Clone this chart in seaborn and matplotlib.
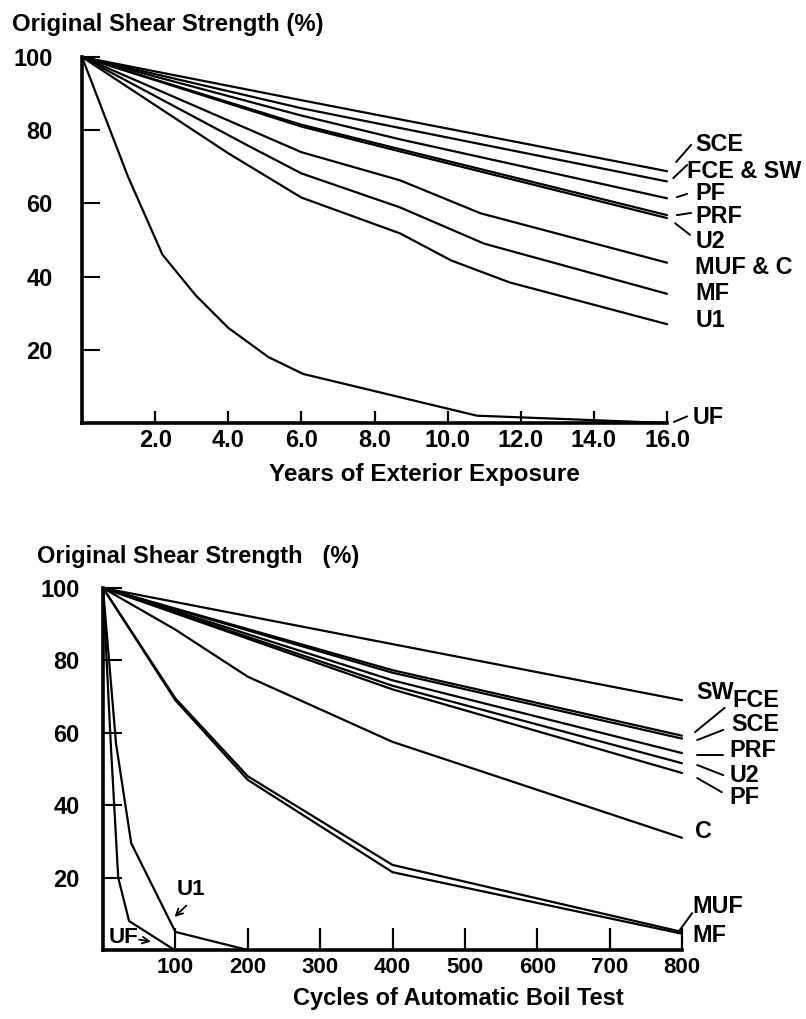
import matplotlib
matplotlib.use("Agg")
import matplotlib.pyplot as plt
import pandas as pd
import seaborn as sns

# ---- Exterior exposure (years) ----
sce_yr_x = [0, 6, 16]
sce_yr_y = [100, 88.2, 68.8]
fce_sw_yr_x = [0, 6, 16]
fce_sw_yr_y = [100, 86, 66]
pf_yr_x = [0, 6, 8.7, 16]
pf_yr_y = [100, 84, 77.5, 61.4]
prf_yr_x = [0, 6, 8.7, 16]
prf_yr_y = [100, 81.5, 74.8, 56.8]
u2_yr_x = [0, 6, 8.7, 16]
u2_yr_y = [100, 81, 74.2, 56.0]
muf_c_yr_x = [0, 6, 8.7, 10.9, 16]
muf_c_yr_y = [100, 74, 66.3, 57.3, 43.8]
mf_yr_x = [0, 4.5, 6, 8.7, 11, 16]
mf_yr_y = [100, 76, 68.2, 58.9, 49, 35.3]
u1_yr_x = [0, 4, 6, 8.7, 10.1, 11.7, 16]
u1_yr_y = [100, 73.7, 61.6, 51.8, 44.4, 38.4, 27]
uf_yr_x = [0, 1.25, 2.2, 3.1, 4, 5.1, 6.05, 10.8, 16]
uf_yr_y = [100, 67.5, 46, 35, 26, 18, 13.4, 2, 0]

year_ticks = [2, 4, 6, 8, 10, 12, 14, 16]
year_tick_labels = ["2.0", "4.0", "6.0", "8.0", "10.0", "12.0", "14.0", "16.0"]

# ---- Automatic boil test (cycles) ----
sw_cy_x = [0, 800]
sw_cy_y = [100, 69]
fce_cy_x = [0, 400, 800]
fce_cy_y = [100, 77.3, 59.2]
sce_cy_x = [0, 400, 800]
sce_cy_y = [100, 76.6, 58.4]
prf_cy_x = [0, 400, 800]
prf_cy_y = [100, 74.5, 54.4]
u2_cy_x = [0, 400, 800]
u2_cy_y = [100, 73, 51.6]
pf_cy_x = [0, 400, 800]
pf_cy_y = [100, 72, 48.9]
c_cy_x = [0, 100, 200, 400, 800]
c_cy_y = [100, 88.5, 75.5, 57.5, 31]
muf_cy_x = [0, 100, 200, 400, 800]
muf_cy_y = [100, 69.5, 48, 23.5, 5]
mf_cy_x = [0, 100, 200, 400, 800]
mf_cy_y = [100, 69, 47, 21.5, 4.5]
u1_cy_x = [0, 18, 39, 100, 200]
u1_cy_y = [100, 57, 29.5, 5, 0]
uf_cy_x = [0, 11, 21, 36, 99]
uf_cy_y = [100, 56, 20, 8, 0]

cycle_ticks = [100, 200, 300, 400, 500, 600, 700, 800]
cycle_tick_labels = [str(c) for c in cycle_ticks]

pct_ticks = [20, 40, 60, 80, 100]
pct_tick_labels = ["20", "40", "60", "80", "100"]


def long_frame(series):
    rows = []
    for name, xs, ys in series:
        for x, y in zip(xs, ys):
            rows.append({"series": name, "x": x, "y": y})
    return pd.DataFrame(rows)


years_df = long_frame([
    ("SCE", sce_yr_x, sce_yr_y),
    ("FCE & SW", fce_sw_yr_x, fce_sw_yr_y),
    ("PF", pf_yr_x, pf_yr_y),
    ("PRF", prf_yr_x, prf_yr_y),
    ("U2", u2_yr_x, u2_yr_y),
    ("MUF & C", muf_c_yr_x, muf_c_yr_y),
    ("MF", mf_yr_x, mf_yr_y),
    ("U1", u1_yr_x, u1_yr_y),
    ("UF", uf_yr_x, uf_yr_y),
])

cycles_df = long_frame([
    ("SW", sw_cy_x, sw_cy_y),
    ("FCE", fce_cy_x, fce_cy_y),
    ("SCE", sce_cy_x, sce_cy_y),
    ("PRF", prf_cy_x, prf_cy_y),
    ("U2", u2_cy_x, u2_cy_y),
    ("PF", pf_cy_x, pf_cy_y),
    ("C", c_cy_x, c_cy_y),
    ("MUF", muf_cy_x, muf_cy_y),
    ("MF", mf_cy_x, mf_cy_y),
    ("U1", u1_cy_x, u1_cy_y),
    ("UF", uf_cy_x, uf_cy_y),
])

sns.set_theme(style="white")
plt.rcParams["font.family"] = ["Liberation Sans", "DejaVu Sans"]
plt.rcParams["font.weight"] = "bold"
plt.rcParams["axes.edgecolor"] = "black"
plt.rcParams["text.color"] = "black"

W, H = 806, 1019
fig = plt.figure(figsize=(W / 100, H / 100), dpi=100)
fig.patch.set_facecolor("white")

ax1 = fig.add_axes([82 / W, (H - 423) / H, 585 / W, 366 / H])
ax2 = fig.add_axes([103 / W, (H - 950) / H, 579 / W, 362 / H])

TICK_FS = 17

for ax, df in ((ax1, years_df), (ax2, cycles_df)):
    sns.lineplot(data=df, x="x", y="y", units="series", estimator=None,
                 sort=False, color="black", linewidth=1.6, ax=ax, legend=False)
    for ln in ax.lines:
        ln.set_clip_on(False)
    ax.set_ylim(0, 100)
    ax.set_xlabel("")
    ax.set_ylabel("")
    for side in ("top", "right"):
        ax.spines[side].set_visible(False)
    for side in ("left", "bottom"):
        ax.spines[side].set_linewidth(2.6)
        ax.spines[side].set_color("black")
    ax.set_yticks(pct_ticks)
    ax.set_yticklabels(pct_tick_labels, fontsize=TICK_FS, fontweight="bold")
    ax.set_facecolor("white")

# top panel axes
ax1.set_xlim(0, 16)
ax1.set_xticks(year_ticks)
ax1.set_xticklabels(year_tick_labels, fontsize=TICK_FS, fontweight="bold")
ax1.tick_params(axis="x", bottom=True, direction="in", length=9, width=1.6,
                pad=4, labelcolor="black", color="black")
ax1.tick_params(axis="y", left=True, direction="in", length=13, width=1.5,
                pad=21, labelcolor="black", color="black")

# bottom panel axes
ax2.set_xlim(0, 800)
ax2.set_xticks(cycle_ticks)
ax2.set_xticklabels(cycle_tick_labels, fontsize=16, fontweight="bold")
ax2.tick_params(axis="x", bottom=True, direction="in", length=16, width=1.6,
                pad=5, labelcolor="black", color="black")
ax2.tick_params(axis="y", left=True, direction="in", length=14, width=1.5,
                pad=17, labelcolor="black", color="black")

# titles and axis captions
fig.text(12 / W, 1 - 24 / H, "Original Shear Strength (%)", fontsize=17.2,
         fontweight="bold", ha="left", va="center")
fig.text(424 / W, 1 - 474 / H, "Years of Exterior Exposure", fontsize=17.5,
         fontweight="bold", ha="center", va="center")
fig.text(37 / W, 1 - 556 / H, "Original Shear Strength   (%)", fontsize=17,
         fontweight="bold", ha="left", va="center")
fig.text(458 / W, 1 - 999 / H, "Cycles of Automatic Boil Test", fontsize=17,
         fontweight="bold", ha="center", va="center")

lab_kw = dict(fontsize=16.8, fontweight="bold", ha="left", va="center",
              clip_on=False)
lead_kw = dict(color="black", linewidth=1.4, clip_on=False)

# end labels, exposure panel
for name, x, y in [("SCE", 16.77, 76.0), ("FCE & SW", 16.55, 68.6),
                   ("PF", 16.77, 62.6), ("PRF", 16.77, 56.3),
                   ("U2", 16.77, 49.5), ("MUF & C", 16.77, 42.6),
                   ("MF", 16.77, 35.5), ("U1", 16.77, 28.1),
                   ("UF", 16.70, 1.6)]:
    ax1.text(x, y, name, **lab_kw)
for (x0, y0), (x1, y1) in [((16.25, 71.3), (16.66, 76.0)),
                           ((16.17, 66.9), (16.55, 70.5)),
                           ((16.27, 61.7), (16.55, 62.6)),
                           ((16.27, 56.8), (16.66, 57.4)),
                           ((16.22, 54.6), (16.63, 51.4)),
                           ((16.19, 0.3), (16.55, 1.8))]:
    ax1.plot([x0, x1], [y0, y1], **lead_kw)

# end labels, boil test panel
for name, x, y in [("SW", 820, 71.0), ("FCE", 869, 69.0),
                   ("SCE", 868, 62.2), ("PRF", 866, 55.2),
                   ("U2", 866, 48.3), ("PF", 866, 42.0),
                   ("C", 818, 32.6), ("MUF", 815, 11.9), ("MF", 815, 4.1)]:
    ax2.text(x, y, name, **lab_kw)
for (x0, y0), (x1, y1) in [((818, 60.2), (859, 66.9)),
                           ((821, 58.0), (857, 60.8)),
                           ((821, 53.9), (857, 53.9)),
                           ((821, 51.1), (857, 48.3)),
                           ((821, 47.5), (855, 43.6)),
                           ((794, 4.7), (814, 10.2))]:
    ax2.plot([x0, x1], [y0, y1], **lead_kw)

# in-plot callouts for the fast-failing adhesives
ax2.text(102, 16.6, "U1", fontsize=16, fontweight="bold", ha="left",
         va="center")
ax2.annotate("", xy=(96, 8.6), xytext=(118, 12.8),
             arrowprops=dict(arrowstyle="->", color="black", lw=1.3))
ax2.text(8, 3.4, "UF", fontsize=16, fontweight="bold", ha="left",
         va="center")
ax2.annotate("", xy=(70, 2.2), xytext=(46, 3.0),
             arrowprops=dict(arrowstyle="->", color="black", lw=1.3))

fig.savefig("out.png", dpi=100, facecolor="white")
